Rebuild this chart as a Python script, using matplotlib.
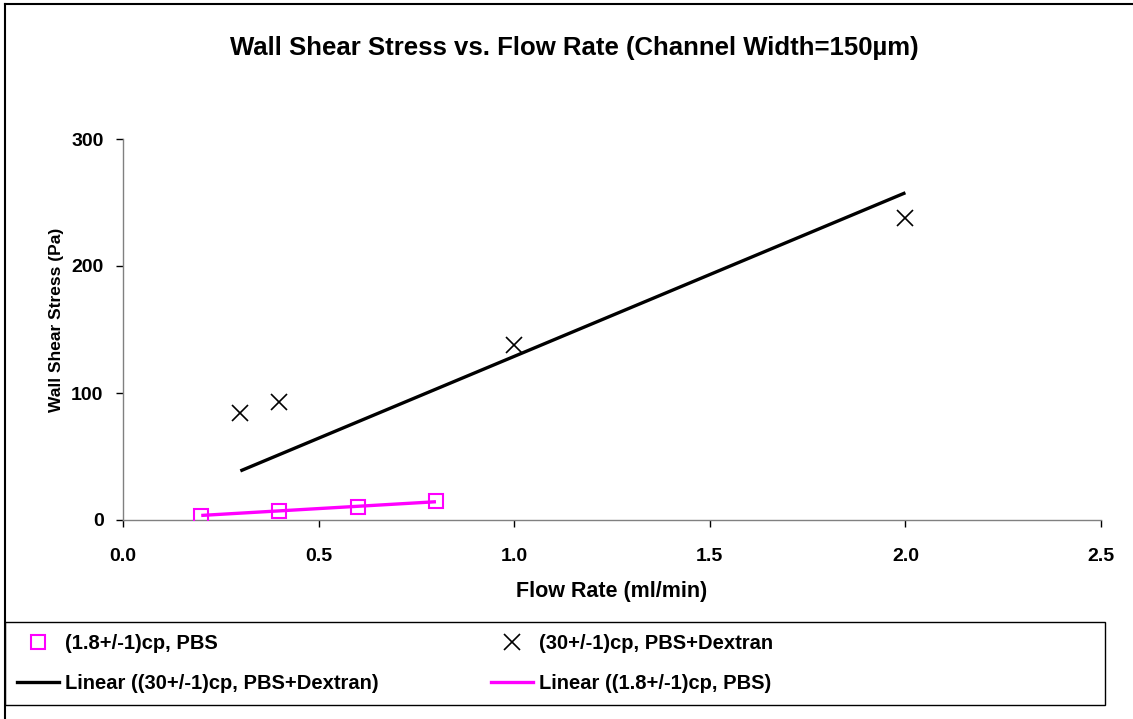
#!/usr/bin/env python3

import matplotlib
matplotlib.use("Agg")
import matplotlib.pyplot as plt
from matplotlib.lines import Line2D
from matplotlib.patches import Rectangle
import numpy as np

# data
pbs_flow = [0.2, 0.4, 0.6, 0.8]
pbs_stress = [3.1, 7.1, 10.2, 15.0]
dex_flow = [0.3, 0.4, 1.0, 2.0]
dex_stress = [84, 93, 138, 238]

x_ticks = [0.0, 0.5, 1.0, 1.5, 2.0, 2.5]
y_ticks = [0, 100, 200, 300]

pbs_label = "(1.8+/-1)cp, PBS"
dex_label = "(30+/-1)cp, PBS+Dextran"

plt.rcParams['font.family'] = ['Liberation Sans', 'DejaVu Sans']
plt.rcParams['font.weight'] = 'bold'

W, H = 1133, 719
fig = plt.figure(figsize=(W / 100, H / 100), dpi=100)

def fx(px):
    return px / W

def fy(py):
    return 1 - py / H

ax = fig.add_axes([fx(123), fy(520), fx(1101 - 123), (520 - 139) / H])

# excel style linear trendlines, intercept set to zero
def origin_fit(x, y):
    x = np.array(x, dtype=float)
    y = np.array(y, dtype=float)
    slope = np.sum(x * y) / np.sum(x * x)
    xs = np.array([x.min(), x.max()])
    return xs, slope * xs

magenta = '#FF00FF'
gray = '#808080'

tx, ty = origin_fit(dex_flow, dex_stress)
ax.plot(tx, ty, color='black', lw=2.4, solid_capstyle='butt', zorder=2)
tx, ty = origin_fit(pbs_flow, pbs_stress)
ax.plot(tx, ty, color=magenta, lw=2.4, solid_capstyle='butt', zorder=2)

ax.plot(pbs_flow, pbs_stress, linestyle='none', marker='s', markersize=10.5,
        markerfacecolor='none', markeredgecolor=magenta, markeredgewidth=1.5, zorder=3)
ax.plot(dex_flow, dex_stress, linestyle='none', marker='x', markersize=12,
        color='black', markeredgewidth=1.2, zorder=3)

ax.set_xlim(0, 2.5)
ax.set_ylim(0, 300)
ax.set_xticks(x_ticks)
ax.set_xticklabels(["%.1f" % v for v in x_ticks])
ax.set_yticks(y_ticks)
ax.set_yticklabels([str(v) for v in y_ticks])

for s in ['top', 'right']:
    ax.spines[s].set_visible(False)
for s in ['left', 'bottom']:
    ax.spines[s].set_color(gray)
    ax.spines[s].set_linewidth(1.0)
ax.tick_params(axis='both', direction='out', length=5, width=1.0, color='black',
               labelsize=14)
ax.tick_params(axis='x', pad=15)
ax.tick_params(axis='y', pad=9)
for lab in ax.get_xticklabels() + ax.get_yticklabels():
    lab.set_fontweight('bold')

fig.text(fx(574), fy(48), "Wall Shear Stress vs. Flow Rate (Channel Width=150\u00b5m)",
         ha='center', va='center', fontsize=18.5, fontweight='bold')
fig.text(fx(612), fy(591), "Flow Rate (ml/min)", ha='center', va='center',
         fontsize=15.5, fontweight='bold')
fig.text(fx(57), fy(320), "Wall Shear Stress (Pa)", ha='center', va='center',
         rotation=90, fontsize=12.5, fontweight='bold')

# chart border (left and top) and legend box
fig.add_artist(Line2D([fx(5), fx(5)], [fy(4), 0], color='black', lw=1.5))
fig.add_artist(Line2D([fx(5), 1], [fy(4), fy(4)], color='black', lw=1.5))
fig.add_artist(Rectangle((fx(5), fy(705)), fx(1105 - 5), (705 - 622) / H,
                         fill=False, edgecolor='black', lw=1.0, transform=fig.transFigure))

sq = Line2D([], [], linestyle='none', marker='s', markersize=10.5, markerfacecolor='none',
            markeredgecolor=magenta, markeredgewidth=1.5)
xx = Line2D([], [], linestyle='none', marker='x', markersize=12, color='black',
            markeredgewidth=1.2)
bl = Line2D([], [], color='black', lw=2.4)
ml = Line2D([], [], color=magenta, lw=2.4)

leg_kw = dict(frameon=False, loc='upper left', borderpad=0, borderaxespad=0,
              handlelength=2.1, handletextpad=0.3, labelspacing=1.05,
              prop={'size': 14.5, 'weight': 'bold'})
leg1 = fig.legend([sq, bl], [pbs_label, "Linear (" + dex_label + ")"],
                  bbox_to_anchor=(fx(17), fy(634)), **leg_kw)
leg2 = fig.legend([xx, ml], [dex_label, "Linear (" + pbs_label + ")"],
                  bbox_to_anchor=(fx(491), fy(634)), **leg_kw)

fig.savefig("out.png", dpi=100)
